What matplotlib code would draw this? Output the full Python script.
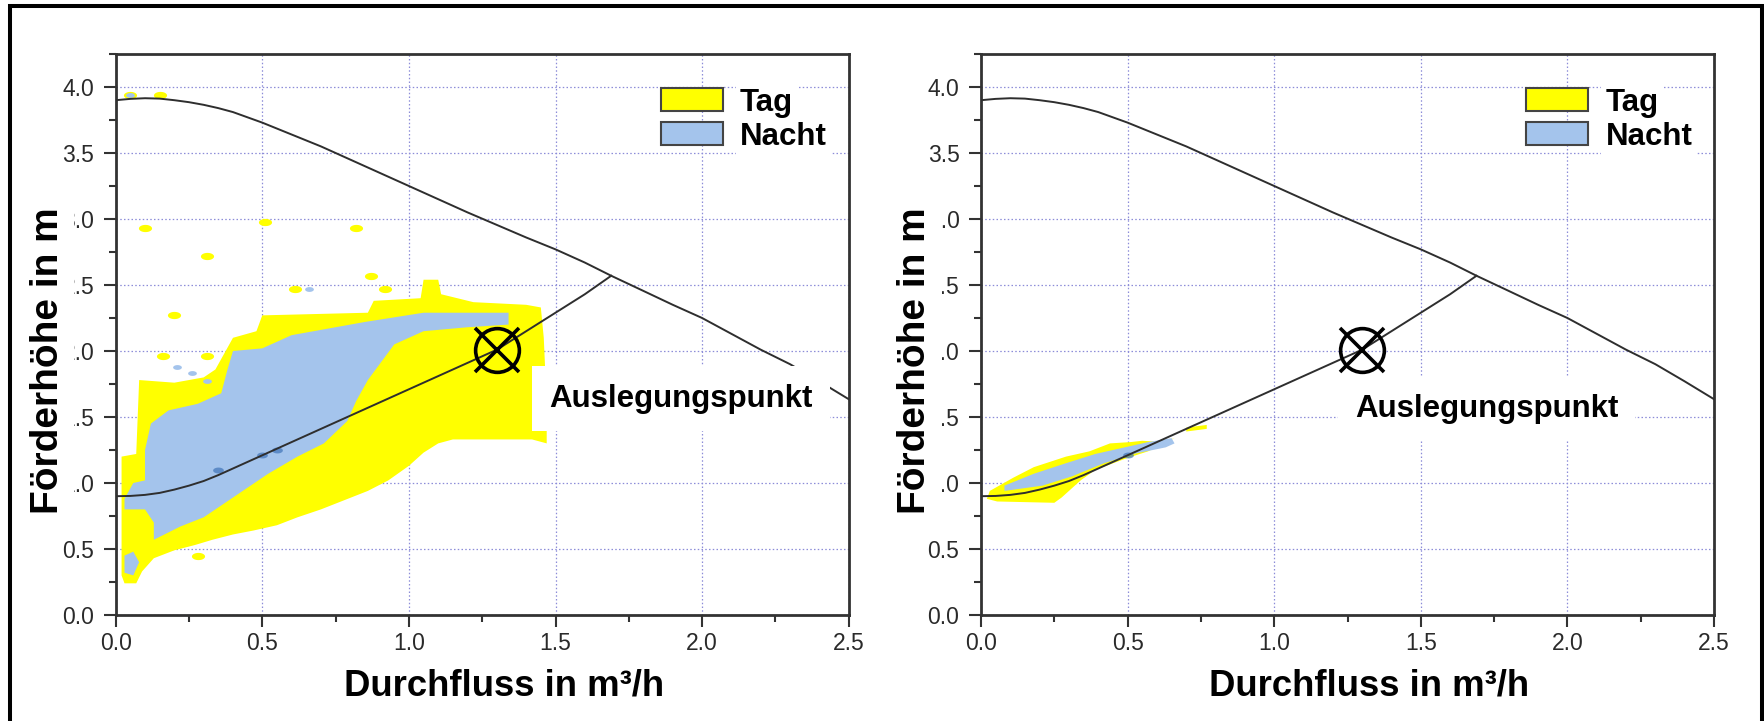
import numpy as np
import matplotlib
matplotlib.use("Agg")
import matplotlib.pyplot as plt
from matplotlib.patches import Patch, Rectangle
from matplotlib.ticker import MultipleLocator, FormatStrFormatter

plt.rcParams['font.family'] = ['Liberation Sans', 'DejaVu Sans']

# pump curve and system curve (Q in m3/h, H in m)
pump_q = [0.0, 0.05, 0.1, 0.15, 0.2, 0.25, 0.3, 0.35, 0.4, 0.45, 0.5, 0.6, 0.7, 0.8, 0.9,
          1.0, 1.1, 1.2, 1.3, 1.4, 1.5, 1.6, 1.69, 1.8, 1.9, 2.0, 2.1, 2.2, 2.3, 2.4, 2.5]
pump_h = [3.90, 3.91, 3.915, 3.912, 3.90, 3.885, 3.865, 3.84, 3.81, 3.77, 3.73, 3.64, 3.55,
          3.45, 3.35, 3.25, 3.15, 3.05, 2.955, 2.86, 2.77, 2.67, 2.57, 2.455, 2.35, 2.25,
          2.13, 2.01, 1.90, 1.77, 1.635]
sys_q = [0.0, 0.05, 0.1, 0.15, 0.2, 0.25, 0.3, 0.35, 0.4, 0.45, 0.5, 0.6, 0.7, 0.8, 0.9,
         1.0, 1.1, 1.2, 1.3, 1.4, 1.5, 1.6, 1.69]
sys_h = [0.90, 0.902, 0.91, 0.925, 0.95, 0.98, 1.015, 1.06, 1.11, 1.16, 1.21, 1.31, 1.41,
         1.51, 1.61, 1.71, 1.81, 1.91, 2.01, 2.15, 2.29, 2.43, 2.57]
design_q, design_h = 1.3, 2.01

# measured operating areas, left: pump without control
tag1_q = [0.03, 0.07, 0.09, 0.13, 0.20, 0.27, 0.33, 0.40, 0.47, 0.55, 0.62, 0.70, 0.78,
          0.86, 0.93, 1.00, 1.05, 1.10, 1.15, 1.42, 1.47, 1.47, 1.46, 1.45, 1.40, 1.22,
          1.11, 1.10, 1.05, 1.04, 0.88, 0.86, 0.50, 0.48, 0.40, 0.37, 0.34, 0.30, 0.20,
          0.08, 0.07, 0.02, 0.02]
tag1_h = [0.24, 0.24, 0.33, 0.43, 0.49, 0.53, 0.57, 0.61, 0.64, 0.68, 0.74, 0.80, 0.87,
          0.94, 1.02, 1.13, 1.23, 1.30, 1.33, 1.33, 1.30, 1.60, 2.10, 2.33, 2.35, 2.37,
          2.43, 2.54, 2.54, 2.40, 2.38, 2.29, 2.27, 2.15, 2.10, 1.98, 1.86, 1.80, 1.76,
          1.78, 1.22, 1.20, 0.30]
nacht1_q = [0.13, 0.22, 0.30, 0.42, 0.52, 0.62, 0.71, 0.79, 0.82, 0.86, 0.91, 0.95, 1.05,
            1.20, 1.34, 1.34, 1.05, 0.85, 0.60, 0.50, 0.40, 0.38, 0.36, 0.28, 0.18, 0.12,
            0.10, 0.10, 0.06, 0.03, 0.03, 0.10, 0.13]
nacht1_h = [0.57, 0.67, 0.74, 0.92, 1.07, 1.20, 1.30, 1.47, 1.62, 1.78, 1.93, 2.05, 2.15,
            2.18, 2.20, 2.29, 2.29, 2.22, 2.12, 2.02, 2.00, 1.85, 1.68, 1.60, 1.55, 1.45,
            1.25, 1.02, 1.00, 0.88, 0.80, 0.80, 0.70]
nacht1_spot_q = [0.03, 0.06, 0.08, 0.06, 0.03]
nacht1_spot_h = [0.32, 0.30, 0.40, 0.48, 0.45]
tag1_dots_q = [0.05, 0.15, 0.10, 0.51, 0.82, 0.31, 0.87, 0.61, 0.92, 0.20, 0.16, 0.31, 0.28]
tag1_dots_h = [3.94, 3.94, 2.93, 2.98, 2.93, 2.72, 2.57, 2.47, 2.47, 2.27, 1.96, 1.96, 0.45]
nacht1_dots_q = [0.05, 0.66, 0.21, 0.26, 0.31]
nacht1_dots_h = [3.94, 2.47, 1.88, 1.83, 1.77]

# right: pump with control
tag2_q = [0.03, 0.11, 0.18, 0.29, 0.37, 0.44, 0.51, 0.55, 0.62, 0.66, 0.57, 0.50,
          0.39, 0.34, 0.275, 0.25, 0.055, 0.02]
tag2_h = [0.94, 1.04, 1.12, 1.20, 1.24, 1.30, 1.31, 1.32, 1.31, 1.34, 1.24, 1.19,
          1.10, 1.02, 0.89, 0.85, 0.86, 0.88]
tag2b_q = [0.70, 0.77, 0.77, 0.70]
tag2b_h = [1.39, 1.41, 1.44, 1.42]
nacht2_q = [0.08, 0.18, 0.29, 0.39, 0.49, 0.57, 0.65, 0.66, 0.63, 0.52, 0.42, 0.31, 0.21, 0.08]
nacht2_h = [0.98, 1.07, 1.15, 1.22, 1.27, 1.31, 1.34, 1.30, 1.27, 1.22, 1.15, 1.05, 0.98, 0.94]

# darker spots where both overlap heavily
dense_q = [0.35, 0.50, 0.55]
dense_h = [1.10, 1.21, 1.25]

yellow = '#ffff00'
blue = '#a4c4ec'
ink = '#2e2e2e'

fig = plt.figure(figsize=(17.64, 7.21), dpi=100)
ax1 = fig.add_axes([115.7 / 1764, 106 / 721, 733 / 1764, 561 / 721])
ax2 = fig.add_axes([981 / 1764, 106 / 721, 733 / 1764, 561 / 721])

oval = [(np.cos(t), 0.55 * np.sin(t)) for t in np.linspace(0, 2 * np.pi, 30)]


def style_axes(ax, ylab_x):
    ax.set_xlim(0, 2.5)
    ax.set_ylim(0, 4.25)
    ax.xaxis.set_major_locator(MultipleLocator(0.5))
    ax.xaxis.set_minor_locator(MultipleLocator(0.25))
    ax.yaxis.set_major_locator(MultipleLocator(0.5))
    ax.yaxis.set_minor_locator(MultipleLocator(0.25))
    ax.xaxis.set_major_formatter(FormatStrFormatter('%.1f'))
    ax.yaxis.set_major_formatter(FormatStrFormatter('%.1f'))
    ax.tick_params(which='major', direction='out', length=8.5, width=1.5, color='#333333',
                   labelsize=16.5, labelcolor='#2a2a2a')
    ax.tick_params(which='minor', direction='out', length=5, width=1.5, color='#333333')
    ax.tick_params(axis='x', which='major', pad=4)
    ax.tick_params(axis='y', which='major', pad=7)
    for s in ax.spines.values():
        s.set_linewidth(2)
        s.set_color('#333333')
    ax.set_axisbelow(True)
    ax.grid(True, which='major', color='#8c8cd8', lw=0.9, ls=(0, (1.2, 1.8)))
    ax.set_xlabel('Durchfluss in m³/h', fontsize=26.3, fontweight='bold')
    ax.xaxis.set_label_coords(0.53, -0.096)
    ax.set_ylabel('Förderhöhe in m', fontsize=28, fontweight='bold',
                  bbox=dict(facecolor='white', edgecolor='none', boxstyle='square,pad=0.22'))
    ax.yaxis.set_label_coords(ylab_x, 0.453)


def draw_curves(ax, text_q, text_h):
    ax.plot(pump_q, pump_h, color=ink, lw=1.4, zorder=3)
    ax.plot(sys_q, sys_h, color=ink, lw=1.4, zorder=3)
    ax.plot([design_q], [design_h], marker='o', ms=31.5, mfc='none', mec='black', mew=2.6, zorder=4)
    ax.plot([design_q], [design_h], marker='x', ms=31.5, mec='black', mew=2.6, zorder=4)
    ax.text(text_q, text_h, 'Auslegungspunkt', fontsize=22.5, fontweight='bold', va='center',
            ha='left', zorder=6,
            bbox=dict(facecolor='white', edgecolor='none', boxstyle='square,pad=0.55'))
    leg = ax.legend(handles=[Patch(facecolor=yellow, edgecolor='#444444', lw=1.5, label='Tag'),
                             Patch(facecolor=blue, edgecolor='#444444', lw=1.5, label='Nacht')],
                    loc='upper left', bbox_to_anchor=(0.744, 0.94), frameon=False,
                    borderpad=0, borderaxespad=0, handlelength=1.98, handleheight=0.74,
                    handletextpad=0.55, labelspacing=0.13,
                    prop=dict(size=22.5, weight='bold'))
    leg.set_zorder(7)
    for t in leg.get_texts():
        t.set_bbox(dict(facecolor='white', edgecolor='none', pad=3))


# left panel
style_axes(ax1, -0.068)
ax1.fill(tag1_q, tag1_h, color=yellow, lw=0, zorder=1)
ax1.fill(nacht1_q, nacht1_h, color=blue, lw=0, zorder=1.5)
ax1.fill(nacht1_spot_q, nacht1_spot_h, color=blue, lw=0, zorder=1.5)
ax1.scatter(tag1_dots_q, tag1_dots_h, marker=oval, s=90, color=yellow, lw=0, zorder=1.2)
ax1.scatter(nacht1_dots_q, nacht1_dots_h, marker=oval, s=40, color=blue, lw=0, zorder=1.6)
ax1.scatter(dense_q, dense_h, marker=oval, s=60, color='#3f74b8', alpha=0.7, lw=0, zorder=2)
draw_curves(ax1, 1.478, 1.64)

# right panel
style_axes(ax2, -0.065)
ax2.fill(tag2_q, tag2_h, color=yellow, lw=0, zorder=1)
ax2.fill(tag2b_q, tag2b_h, color=yellow, lw=0, zorder=1)
ax2.fill(nacht2_q, nacht2_h, color=blue, lw=0, zorder=1.5)
ax2.scatter(dense_q[1:2], dense_h[1:2], marker=oval, s=60, color='#3f74b8', alpha=0.7, lw=0, zorder=2)
draw_curves(ax2, 1.275, 1.56)

# outer frame
fig.patches.append(Rectangle((9.5 / 1764, -0.05), 1752 / 1764, (714.5 / 721) + 0.05,
                             transform=fig.transFigure, fill=False, edgecolor='black',
                             lw=2.9, zorder=10))

fig.savefig('out.png', dpi=100)
